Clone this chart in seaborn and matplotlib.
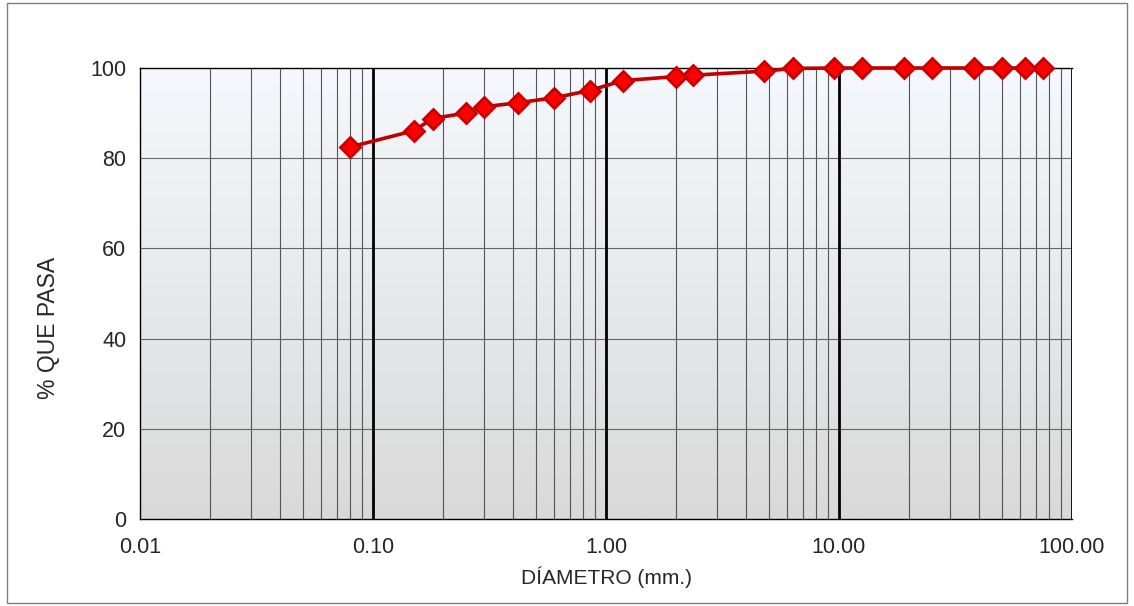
import matplotlib
matplotlib.use('Agg')
import matplotlib.pyplot as plt
import matplotlib.patches as patches
import matplotlib.ticker as mticker
import numpy as np
import pandas as pd
import seaborn as sns

# sieve opening (mm) and cumulative % passing
diametro = [75.0, 63.0, 50.0, 38.0, 25.0, 19.0, 12.5, 9.5, 6.35, 4.76, 2.36, 2.0,
            1.18, 0.85, 0.60, 0.42, 0.30, 0.25, 0.18, 0.15, 0.08]
pasa = [100.0, 100.0, 100.0, 100.0, 100.0, 100.0, 100.0, 100.0, 99.9, 99.3, 98.4, 98.1,
        97.2, 95.0, 93.4, 92.3, 91.4, 90.0, 88.8, 86.1, 82.5]
y_ticks = [0, 20, 40, 60, 80, 100]
x_ticks = [0.01, 0.1, 1, 10, 100]

df = pd.DataFrame({'diametro': diametro, 'pasa': pasa})

sns.set_style('white')
plt.rcParams['font.family'] = ['Liberation Sans', 'DejaVu Sans']

fig = plt.figure(figsize=(11.34, 6.06), dpi=100)
ax = fig.add_axes([0.1235, 0.1436, 0.8218, 0.7442])

# gradient background
grad = np.linspace(0, 1, 256).reshape(-1, 1)
cmap = matplotlib.colors.LinearSegmentedColormap.from_list('bg', ['#f5f8fc', '#d9d9d9'])
ax.imshow(grad, extent=[0, 1, 0, 1], transform=ax.transAxes, cmap=cmap,
          aspect='auto', zorder=0)

sns.lineplot(data=df, x='diametro', y='pasa', ax=ax, sort=False, color='#c00000',
             linewidth=2.6, marker='D', markersize=10, markerfacecolor='#ff0000',
             markeredgecolor='#c80000', markeredgewidth=2.0, zorder=5, clip_on=False)

ax.set_xscale('log')
ax.set_xlim(0.01, 100)
ax.set_ylim(0, 100)

# grid lines
for dec in [0.01, 0.1, 1, 10]:
    for m in range(2, 10):
        ax.axvline(dec * m, color='#555555', linewidth=0.8, zorder=1)
for d in [0.1, 1, 10, 100]:
    ax.axvline(d, color='black', linewidth=2.0, zorder=2)
for yv in y_ticks[1:-1]:
    ax.axhline(yv, color='#666666', linewidth=0.8, zorder=1)

ax.set_xticks(x_ticks)
ax.xaxis.set_major_formatter(mticker.FuncFormatter(lambda v, p: f'{v:.2f}'))
ax.xaxis.set_minor_locator(mticker.NullLocator())
ax.set_yticks(y_ticks)

for s in ['top', 'left', 'bottom']:
    ax.spines[s].set_color('black')
    ax.spines[s].set_linewidth(1.0)
ax.spines['right'].set_visible(False)

ax.tick_params(axis='both', which='major', direction='out', length=6, width=0.8,
               color='#888888', labelsize=15.5, pad=4)
ax.tick_params(axis='x', pad=7)

ax.set_xlabel('DÍAMETRO (mm.)', fontsize=15, labelpad=6)
ax.set_ylabel('% QUE PASA', fontsize=16.5)
ax.yaxis.set_label_coords(-0.086, 0.424)

# outer chart border
fig.patches.append(patches.Rectangle((0.006, 0.005), 0.988, 0.99, transform=fig.transFigure,
                                     fill=False, edgecolor='#7f7f7f', linewidth=1.0))

fig.savefig('out.png', dpi=100, facecolor='white')
